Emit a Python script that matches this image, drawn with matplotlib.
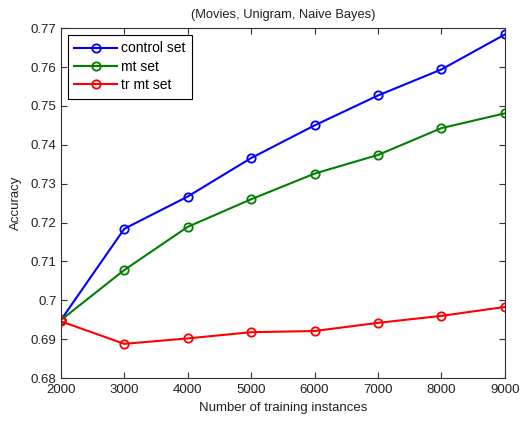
import matplotlib
matplotlib.use('Agg')
import matplotlib.pyplot as plt

plt.rcParams['font.family'] = ['Liberation Sans', 'DejaVu Sans']
plt.rcParams['font.size'] = 9.5

# training set sizes
instances = [2000, 3000, 4000, 5000, 6000, 7000, 8000, 9000]

# accuracy per series
control_set = [0.6949, 0.7184, 0.7267, 0.7366, 0.7450, 0.7527, 0.7594, 0.7684]
mt_set = [0.6949, 0.7078, 0.7189, 0.7260, 0.7326, 0.7374, 0.7443, 0.7481]
tr_mt_set = [0.6946, 0.6888, 0.6902, 0.6918, 0.6921, 0.6942, 0.6960, 0.6983]

fig = plt.figure(figsize=(5.2, 4.21), dpi=100)
ax = fig.add_axes([0.117, 0.102, 0.854, 0.831])

ax.plot(instances, control_set, '-o', color='#0000ff', lw=1.5, ms=6,
        mfc='none', mew=1.3, label='control set')
ax.plot(instances, mt_set, '-o', color='#008000', lw=1.5, ms=6,
        mfc='none', mew=1.3, label='mt set')
ax.plot(instances, tr_mt_set, '-o', color='#ff0000', lw=1.5, ms=6,
        mfc='none', mew=1.3, label='tr mt set')

ax.set_xlim(2000, 9000)
ax.set_ylim(0.68, 0.77)
ax.set_xticks(instances)
ax.set_yticks([0.68, 0.69, 0.70, 0.71, 0.72, 0.73, 0.74, 0.75, 0.76, 0.77])
ax.set_yticklabels(['0.68', '0.69', '0.7', '0.71', '0.72', '0.73', '0.74',
                    '0.75', '0.76', '0.77'])
ax.tick_params(direction='in', top=True, right=True, length=4, width=0.8,
               labelsize=9.5, pad=3, colors='#333333', labelcolor='#222222')
ax.tick_params(axis='x', pad=4.5)
for s in ax.spines.values():
    s.set_linewidth(0.8)
    s.set_color('#333333')

ax.set_xlabel('Number of training instances', labelpad=4, color='#222222')
ax.set_ylabel('Accuracy', labelpad=6, color='#222222')
ax.set_title('(Movies, Unigram, Naive Bayes)', fontsize=9.3, pad=7,
             color='#222222')

leg = ax.legend(loc='upper left', fancybox=False, edgecolor='black',
                framealpha=1, borderaxespad=0.5, handlelength=3.1,
                labelspacing=0.32, borderpad=0.45, handletextpad=0.3,
                fontsize=10)
leg.get_frame().set_linewidth(0.8)

fig.savefig('out.png', dpi=100)
